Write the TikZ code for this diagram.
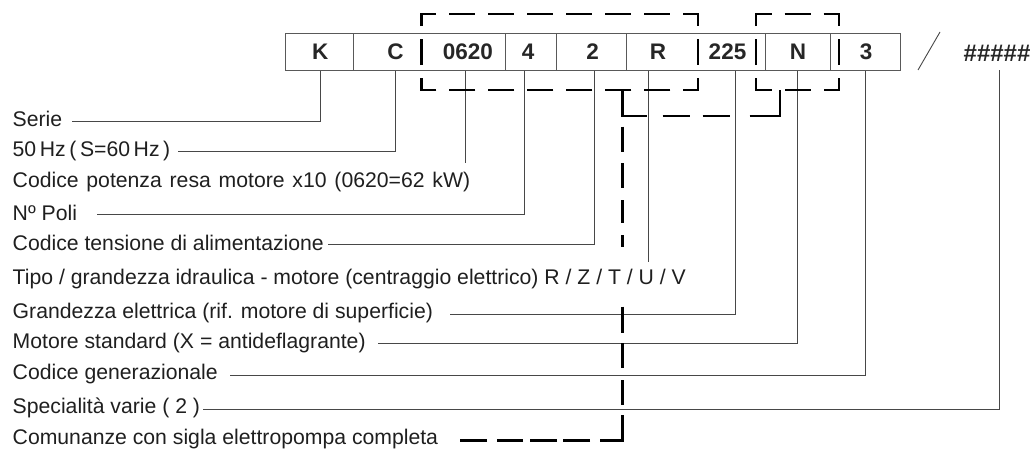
\documentclass[tikz,border=0pt]{standalone}
\usepackage{fontspec}
\setmainfont{Liberation Sans}
\begin{document}
\begin{tikzpicture}[x=1pt,y=-1pt,
  lbl/.style={font=\fontsize{21.2pt}{25pt}\selectfont, text=black!88, inner sep=0pt, anchor=base west},
  cell/.style={font=\fontsize{22.5pt}{26pt}\selectfont\bfseries, text=black!85, inner sep=0pt, anchor=base},
  lead/.style={draw=black!72, line width=0.9pt},
  boxline/.style={draw=black!65, line width=0.9pt},
  bk/.style={draw=black, line width=2.6pt, line cap=butt, line join=miter}]
\useasboundingbox (0,0) rectangle (1030,448);

% code boxes
\draw[boxline] (285,33.3) rectangle (900.7,70.7);
\foreach \xx in {353,505,556,626.7,765,830}
  \draw[boxline] (\xx,33.3) -- (\xx,70.7);

% cell texts
\node[cell] (tK) at (320.3,59.5) {K};
\node[cell] (tC) at (395.5,59.5) {C};
\node[cell] (t0620) at (467.8,59.5) {0620};
\node[cell] (t4) at (528,59.5) {4};
\node[cell] (t2) at (592.7,59.5) {2};
\node[cell] (tR) at (658,59.5) {R};
\node[cell] (t225) at (727.5,59.5) {225};
\node[cell] (tN) at (798,59.5) {N};
\node[cell] (t3) at (866,59.5) {3};
\node[cell, font=\fontsize{24pt}{28pt}\selectfont\bfseries, anchor=base west] (thash) at (963.5,61.5) {\#\#\#\#\#};
\coordinate (sl1) at (918,70);
\coordinate (sl2) at (940,32);
\draw[lead] (sl1) -- (sl2);

% labels
\node[lbl] (serie) at (12.5,126) {Serie};
\node[lbl] (hz) at (12.5,156) {\spaceskip 3.6pt\relax 50 Hz ( S=60 Hz )};
\node[lbl] (pot) at (12.5,187) {\spaceskip 7.8pt\relax Codice potenza resa motore x10 (0620=62 kW)};
\node[lbl] (poli) at (12.5,220) {Nº Poli};
\node[lbl] (tens) at (12.5,250) {Codice tensione di alimentazione};
\node[lbl] (tipo) at (12.5,284.5) {Tipo / grandezza idraulica - motore (centraggio elettrico) R / Z / T / U / V};
\node[lbl] (gra) at (12.5,318) {Grandezza elettrica (rif. motore di superficie)};
\node[lbl] (mot) at (12.5,348) {Motore standard (X = antideflagrante)};
\node[lbl] (gen) at (12.5,379.5) {Codice generazionale};
\node[lbl] (spe) at (12.5,413) {Specialità varie ( 2 )};
\node[lbl] (com) at (12.5,444) {Comunanze con sigla elettropompa completa};

% leader attach points
\coordinate (aK) at (320.7,70.7);   \coordinate (eK) at (71.7,121.7);
\coordinate (aC) at (395.3,70.7);   \coordinate (eC) at (178,151.7);
\coordinate (a0620) at (465.7,70.7); \coordinate (e0620) at (465.7,163);
\coordinate (a4) at (524,70.7);     \coordinate (e4) at (96.7,214);
\coordinate (a2) at (594,70.7);     \coordinate (e2) at (328.3,244);
\coordinate (aR) at (648.3,70.7);   \coordinate (eR) at (648.3,262.3);
\coordinate (a225) at (735.5,70.7); \coordinate (e225) at (450,314);
\coordinate (aN) at (797.8,70.7);   \coordinate (eN) at (378.3,343.5);
\coordinate (a3) at (865.8,70.7);   \coordinate (e3) at (230,375);
\coordinate (aH) at (999.2,70);     \coordinate (eH) at (203,409.3);

\draw[lead] (aK) |- (eK);
\draw[lead] (aC) |- (eC);
\draw[lead] (a0620) -- (e0620);
\draw[lead] (a4) |- (e4);
\draw[lead] (a2) |- (e2);
\draw[lead] (aR) -- (eR);
\draw[lead] (a225) |- (e225);
\draw[lead] (aN) |- (eN);
\draw[lead] (a3) |- (e3);
\draw[lead] (aH) |- (eH);

% dashed groups
\draw[bk, dash pattern=on 13pt off 13pt on 26.65pt
  off 13pt on 26pt off 13pt on 26pt off 13pt on 26pt off 13pt on 26pt off 13pt on 26pt off 13pt on 26pt
  off 13pt on 26.65pt off 13pt on 26pt off 13pt on 26.65pt
  off 13pt on 26pt off 13pt on 26pt off 13pt on 26pt off 13pt on 26pt off 13pt on 26pt off 13pt on 26pt
  off 13pt on 26.65pt off 13pt on 13pt off 0.01pt]
  (421.7,52) -- (421.7,14) -- (698,14) -- (698,90) -- (421.7,90) -- cycle;
\draw[bk, dash pattern=on 13pt off 13pt on 27.5pt off 13pt on 26pt off 13pt on 27.5pt off 13pt on 26pt off 13pt on 27.5pt off 13pt on 26pt off 13pt on 27.5pt off 13pt on 13pt off 0.01pt]
  (756,52) -- (756,14) -- (839,14) -- (839,90) -- (756,90) -- cycle;

\coordinate (P1) at (622.5,90);
\coordinate (P2) at (622.5,116);
\coordinate (P3) at (780,116);
\coordinate (P4) at (780,90);
\coordinate (Q) at (622.5,440.7);
\coordinate (Rr) at (460,440.7);
\draw[bk, dash pattern=on 50pt off 16pt on 27pt off 13pt on 27pt off 20pt on 60pt off 1pt]
  (P1) -- (P2) -- (P3) -- (P4);
\draw[bk, dash pattern=on 0pt off 10.7pt on 25pt off 11.3pt on 25pt off 12pt on 23pt off 12pt on 12pt off 59.7pt
  on 26.3pt off 10pt on 25pt off 12pt on 25pt off 10pt on 48.2pt off 10pt on 27pt off 6pt on 27pt off 7pt
  on 26pt off 10pt on 27pt off 5pt]
  (P2) -- (Q) -- (Rr);
\end{tikzpicture}
\end{document}
